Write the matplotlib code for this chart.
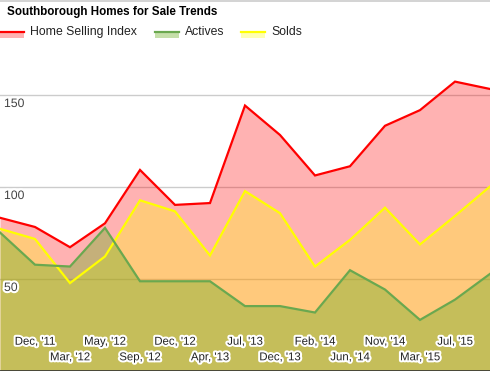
import matplotlib
matplotlib.use("Agg")
import matplotlib.pyplot as plt
import matplotlib.patheffects as pe
from matplotlib.transforms import blended_transform_factory, offset_copy
from matplotlib.patches import Rectangle
from matplotlib.lines import Line2D

# data (15 monthly points, only some are labelled)
months = ["Sep, '11", "Dec, '11", "Mar, '12", "May, '12", "Sep, '12", "Dec, '12", "Apr, '13",
          "Jul, '13", "Dec, '13", "Feb, '14", "Jun, '14", "Nov, '14", "Mar, '15", "Jul, '15", "Oct, '15"]
labelled = [False] + [True] * 13 + [False]
selling_index = [83, 78, 67, 80, 109, 90, 91, 144, 128, 106, 111, 133, 141.5, 157, 153]
actives = [75, 57.5, 56.5, 77.5, 48.5, 48.5, 48.5, 35, 35, 31.5, 54.5, 44, 27.5, 38.5, 52.5]
solds = [77, 71.5, 47.5, 62, 92.5, 86.5, 62.5, 97.5, 85.5, 56.5, 71, 88.5, 68.5, 84, 100]
yticks = [50, 100, 150]

# (line colour, fill colour, fill alpha)
RED = ("#ff0000", "#ff0000", 0.3)
YEL = ("#ffff00", "#ffff00", 0.3)
GRN = ("#6aa84f", "#6eaf28", 0.4)
FONT = "Liberation Sans"
plt.rcParams["font.family"] = [FONT, "DejaVu Sans"]

W, H = 490, 371
fig = plt.figure(figsize=(W / 100, H / 100), dpi=100)
bottom_px, top_px = 370.5, 50
ax = fig.add_axes([0, (H - bottom_px) / H, 1, (bottom_px - top_px) / H])
x = list(range(len(months)))
ax.set_xlim(0, len(months) - 1)
ax.set_ylim(0, (bottom_px - top_px) / 1.84)
for s in ax.spines.values():
    s.set_visible(False)
ax.set_xticks([])
ax.set_yticks([])

for t in yticks:
    ax.axhline(t, color="#cccccc", lw=1, zorder=0)

series = [(selling_index, RED), (solds, YEL), (actives, GRN)]
for vals, (lc, fc, a) in series:
    ax.fill_between(x, 0, vals, color=fc, alpha=a, lw=0, zorder=1)
for vals, (lc, fc, a) in series:
    ax.plot(x, vals, color=lc, lw=1.6, zorder=3, solid_joinstyle="miter")
ax.axhline(0, color="#333333", lw=1.2, zorder=4, clip_on=False)

halo = [pe.withStroke(linewidth=3, foreground="white")]
# y tick labels inside the plot, just under each gridline
ytr = offset_copy(ax.transData, fig=fig, x=4, y=-3.5, units="dots")
for t in yticks:
    ax.text(0, t, str(t), transform=ytr, ha="left", va="top", fontsize=8.8,
            color="#444444", path_effects=halo, zorder=5)

# x labels, staggered on two rows
btr = blended_transform_factory(ax.transData, fig.transFigure)
for i, (m, show) in enumerate(zip(months, labelled)):
    if not show:
        continue
    ypx = 341.7 if i % 2 == 1 else 357.3
    ax.text(i, 1 - ypx / H, m, transform=btr, ha="center", va="center", fontsize=8.2,
            color="#222222", path_effects=halo, zorder=5)

# thin grey rule along the top edge of the widget
fig.lines.append(Line2D([0, 1], [1 - 0.8 / H] * 2, transform=fig.transFigure, color="#cccccc", lw=1.2))

fig.text(7 / W, 1 - 12.5 / H, "Southborough Homes for Sale Trends", ha="left", va="center",
         fontsize=8.4, fontweight="bold", color="#000000")

# legend drawn by hand: line over a translucent swatch
legend = [("Home Selling Index", RED, 0), ("Actives", GRN, 155), ("Solds", YEL, 241)]
for name, (lc, fc, a), x0 in legend:
    fig.patches.append(Rectangle((x0 / W, 1 - 37.7 / H), 24 / W, 6 / H, transform=fig.transFigure,
                                 color=fc, alpha=a, lw=0))
    fig.lines.append(Line2D([x0 / W, (x0 + 24) / W], [1 - 31.5 / H] * 2, transform=fig.transFigure,
                            color=lc, lw=1.6))
    fig.text((x0 + 30) / W, 1 - 32 / H, name, ha="left", va="center", fontsize=8.8, color="#222222")

fig.savefig("out.png", dpi=100)
